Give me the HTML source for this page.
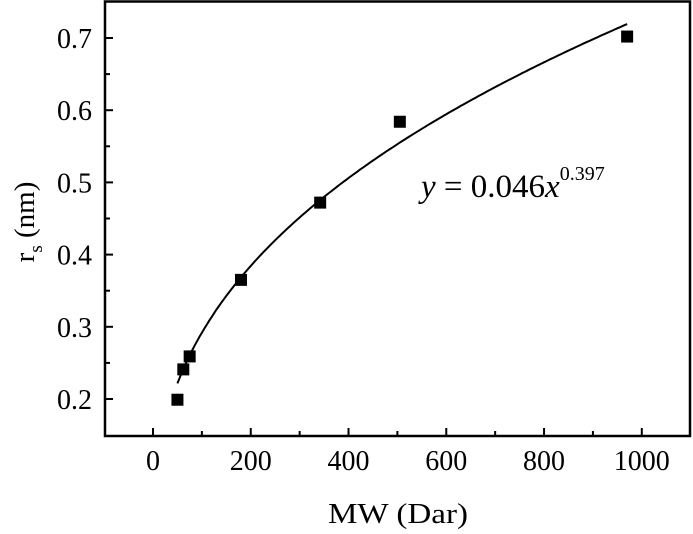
<!DOCTYPE html>
<html><head><meta charset="utf-8"><style>
body{margin:0;background:#fff}
svg{display:block;font-family:"Liberation Serif",serif}
</style></head><body>
<svg id="s" width="693" height="534" viewBox="0 0 693 534" xmlns="http://www.w3.org/2000/svg">
<rect x="105" y="1.5" width="585" height="434.5" fill="none" stroke="#000" stroke-width="2.5"/>
<g id="t" stroke="#000" stroke-width="2"></g>
<g font-size="28" text-anchor="end" id="yl"></g>
<g font-size="28" text-anchor="middle" id="xl"></g>
<path id="c" fill="none" stroke="#000" stroke-width="2"/>
<g id="p"></g>
<text x="328" y="523" font-size="29" textLength="140" lengthAdjust="spacingAndGlyphs">MW (Dar)</text>
<text transform="translate(34,222) rotate(-90)" font-size="29" text-anchor="middle">r<tspan font-size="19" dy="8">s</tspan><tspan dy="-8"> (nm)</tspan></text>
<text x="421" y="197" font-size="33"><tspan font-style="italic">y</tspan> = 0.046<tspan font-style="italic">x</tspan><tspan font-size="20" dy="-17">0.397</tspan></text>
</svg>
<script>
var X=function(m){return 153+m*0.4888},Y=function(v){return 399-(v-0.2)*722};
var t='',yl='',xl='';
for(var m=0;m<=1000;m+=100){var x=X(m);t+='<line x1="'+x+'" y1="436" x2="'+x+'" y2="'+(m%200?431:428)+'"/>';if(m%200==0)xl+='<text x="'+x+'" y="470">'+m+'</text>';}
for(var i=0;i<=11;i++){var v=0.15+i*0.05,y=Y(v);if(y<3||y>435)continue;var maj=(i%2==1);t+='<line x1="105" y1="'+y+'" x2="'+(maj?113:110)+'" y2="'+y+'"/>';if(maj)yl+='<text x="92" y="'+(y+10)+'">'+v.toFixed(1)+'</text>';}
document.getElementById('t').innerHTML=t;document.getElementById('yl').innerHTML=yl;document.getElementById('xl').innerHTML=xl;
var d='';for(var m=50;m<=970;m+=5){d+=(m==50?'M':'L')+X(m).toFixed(1)+' '+Y(0.0469*Math.pow(m,0.397)).toFixed(1);}
document.getElementById('c').setAttribute('d',d);
var pts=[[50,0.199],[62,0.241],[75,0.259],[180,0.365],[342,0.472],[505,0.584],[970,0.702]],p='';
pts.forEach(function(q){p+='<rect x="'+(X(q[0])-6)+'" y="'+(Y(q[1])-6)+'" width="12" height="12"/>';});
document.getElementById('p').innerHTML=p;
</script>
</body></html>
